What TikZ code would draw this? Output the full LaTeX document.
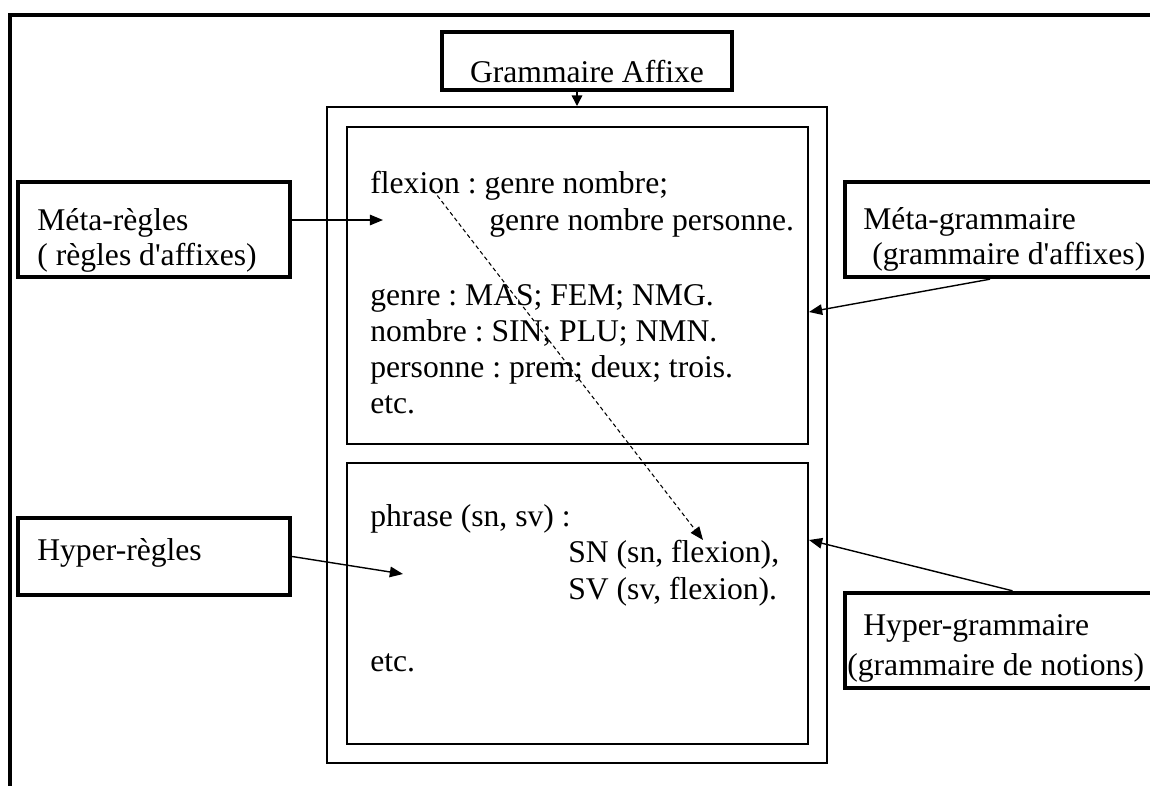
\documentclass[tikz,border=0pt]{standalone}
\usepackage{fontspec}
\setmainfont{Liberation Serif}
\usetikzlibrary{arrows.meta}
\frenchspacing

\tikzset{
  cadre/.style={line width=2.3pt,line join=miter},
  etiquette/.style={draw,line width=2.5pt,inner sep=0pt},
  bloc/.style={draw,line width=1.2pt,inner sep=0pt},
  texte/.style={anchor=base west,inner sep=0pt,font=\fontsize{18pt}{20pt}\selectfont},
  fleche/.style={-{Triangle[length=7.5pt,width=6pt]},line width=0.8pt},
}

\begin{document}
\begin{tikzpicture}[x=0.02cm,y=-0.02cm]
 \useasboundingbox (0,0) rectangle (1150,785);
 % cadre de la page
 \draw[cadre] (10,795) -- (10,15) -- (1160,15);

 % grammaire affixe et ses deux parties
 \node[etiquette,minimum width=5.8cm,minimum height=1.16cm] (affixe) at (587,61) {};
 \node[texte,anchor=base] (affixetxt) at (587,82) {Grammaire Affixe};
 \node[bloc,minimum width=10cm,minimum height=13.12cm] (conteneur) at (577,435) {};
 \node[bloc,minimum width=9.22cm,minimum height=6.34cm] (superieur) at (577.5,285.5) {};
 \node[bloc,minimum width=9.22cm,minimum height=5.62cm] (inferieur) at (577.5,603.5) {};
 \draw[-{Triangle[length=6pt,width=6pt]},line width=0.8pt]
  (conteneur.north |- affixe.south) -- (conteneur.north);

 % meta-grammaire
 \node[texte] (flexion) at (370,193) {flexion : genre nombre;};
 \node[texte] (flexsuite) at (489,230) {genre nombre personne.};
 \node[texte] (genre) at (370,305) {genre : MAS; FEM; NMG.};
 \node[texte] (nombre) at (370,341) {nombre : SIN; PLU; NMN.};
 \node[texte] (personne) at (370,377) {personne : prem; deux; trois.};
 \node[texte] (etcmeta) at (370,413) {etc.};

 % hyper-grammaire
 \node[texte] (phrase) at (370,526) {phrase (sn, sv) :};
 \node[texte] (sn) at (568,562) {SN (sn, flexion),};
 \node[texte] (sv) at (568,599) {SV (sv, flexion).};
 \node[texte] (etchyper) at (370,671) {etc.};

 % etiquettes de gauche
 \node[etiquette,minimum width=5.44cm,minimum height=1.9cm] (metaregles) at (154,229.5) {};
 \node[texte] at (37,230) {Méta-règles};
 \node[texte] at (37,265) {( règles d\textquotesingle affixes)};
 \node[etiquette,minimum width=5.44cm,minimum height=1.54cm] (hyperregles) at (154,556.5) {};
 \node[texte] at (37,560) {Hyper-règles};

 % etiquettes de droite
 \node[etiquette,minimum width=6.3cm,minimum height=1.9cm] (metagram) at (1002.5,229.5) {};
 \node[texte] at (863,229) {Méta-grammaire};
 \node[texte] at (872,264) {(grammaire d\textquotesingle affixes)};
 \node[etiquette,minimum width=6.3cm,minimum height=1.9cm] (hypergram) at (1002.5,640.5) {};
 \node[texte] at (863,635) {Hyper-grammaire};
 \node[texte] at (847,675) {(grammaire de notions)};

 % fleches
 \coordinate (cMetaRegles) at (383,220);
 \coordinate (cHyperRegles) at (403,574);
 \coordinate (cMetaGram) at (809,312);
 \coordinate (cHyperGram) at (809,540);
 \coordinate (dFlexion) at (433,190);
 \coordinate (cFlexion) at (703,540);
 \draw[fleche] (metaregles.east |- cMetaRegles) -- (cMetaRegles);
 \draw[fleche] (hyperregles.east) -- (cHyperRegles);
 \draw[fleche] ([xshift=-0.25cm]metagram.south) -- (cMetaGram);
 \draw[fleche] ([xshift=0.2cm]hypergram.north) -- (cHyperGram);
 \draw[fleche,line width=0.6pt,dash pattern=on 2.3pt off 1.7pt] (dFlexion) -- (cFlexion);
\end{tikzpicture}
\end{document}
